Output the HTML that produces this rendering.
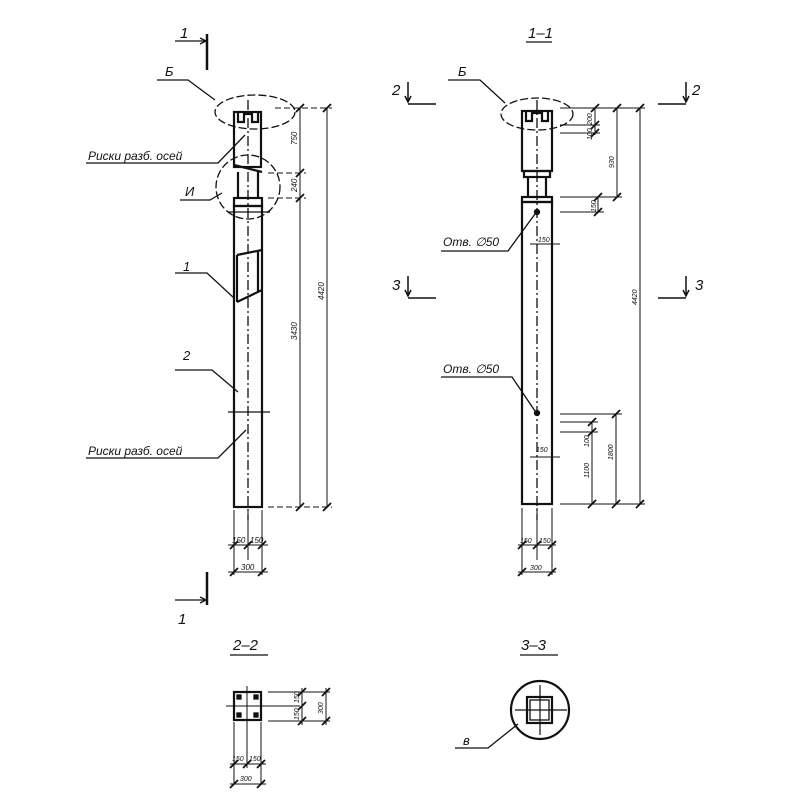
<!DOCTYPE html>
<html><head><meta charset="utf-8"><style>html,body{margin:0;padding:0;background:#fff}svg{display:block}</style></head><body>
<svg width="800" height="800" viewBox="0 0 800 800" xmlns="http://www.w3.org/2000/svg" font-family="Liberation Sans, sans-serif" font-style="italic" fill="none" stroke="#111" stroke-width="1.3">
<!-- section marks 1 -->
<text x="180" y="38" font-size="15" fill="#111" stroke="none">1</text>
<line x1="175" y1="41" x2="206" y2="41"/><path d="M200 38 L206 41 L200 44"/>
<line x1="207" y1="34" x2="207" y2="70" stroke-width="2.5"/>
<line x1="207" y1="572" x2="207" y2="605" stroke-width="2.5"/>
<line x1="175" y1="600" x2="206" y2="600"/><path d="M200 597 L206 600 L200 603"/>
<text x="178" y="624" font-size="15" fill="#111" stroke="none">1</text>

<!-- LEFT COLUMN -->
<g stroke-width="2.2">
<rect x="234" y="112" width="27" height="55"/>
<path d="M234 165 L262 172 M238 172 L238 198 M258 172 L258 198"/>
<rect x="234" y="198" width="28" height="8"/>
<rect x="234" y="206" width="28" height="301"/>
<path d="M238 112 v10 h6 v-8 h8 v8 h6 v-10"/>
<path d="M237 255 L262 250 M237 302 L262 290 M237 255 V302 M258 250 V292"/>
</g>
<path d="M248 100 V520" stroke-dasharray="10,3,2,3"/>
<ellipse cx="255" cy="112" rx="40" ry="17" stroke-dasharray="8,3"/>
<circle cx="248" cy="187" r="32" stroke-dasharray="8,3"/>
<line x1="228" y1="212" x2="270" y2="212"/>
<line x1="228" y1="412" x2="270" y2="412"/>
<!-- leaders left -->
<text x="165" y="76" font-size="13" fill="#111" stroke="none">Б</text>
<path d="M157 80 L188 80 L215 100"/>
<text x="88" y="160" font-size="12" fill="#111" stroke="none">Риски разб. осей</text>
<path d="M86 163 L218 163 L245 135"/>
<text x="185" y="196" font-size="13" fill="#111" stroke="none">И</text>
<path d="M180 200 L210 200 L222 193"/>
<text x="183" y="271" font-size="13" fill="#111" stroke="none">1</text>
<path d="M175 273 L207 273 L234 298"/>
<text x="183" y="360" font-size="13" fill="#111" stroke="none">2</text>
<path d="M175 370 L212 370 L238 392"/>
<text x="88" y="455" font-size="12" fill="#111" stroke="none">Риски разб. осей</text>
<path d="M86 458 L218 458 L246 430"/>
<!-- dims left -->
<g stroke-width="1">
<path d="M275 108 H332 M268 173 H306 M268 198 H306 M268 507 H332" stroke-dasharray="6,3"/>
<line x1="300" y1="108" x2="300" y2="507"/>
<line x1="327" y1="108" x2="327" y2="507"/>
<path d="M296 112 l8 -8 M296 177 l8 -8 M296 202 l8 -8 M296 511 l8 -8 M323 112 l8 -8 M323 511 l8 -8" stroke-width="1.8"/>
<path d="M234 510 V575 M248 510 V560 M262 510 V575 M228 545 H268 M228 572 H268"/>
<path d="M230 549 l8 -8 M244 549 l8 -8 M258 549 l8 -8 M230 576 l8 -8 M258 576 l8 -8" stroke-width="1.8"/>
</g>
<g fill="#111" stroke="none" font-size="8">
<text transform="translate(297,145) rotate(-90)">750</text>
<text transform="translate(297,192) rotate(-90)">240</text>
<text transform="translate(297,340) rotate(-90)">3430</text>
<text transform="translate(324,300) rotate(-90)">4420</text>
<text x="232" y="543">150</text><text x="250" y="543">150</text><text x="241" y="570">300</text>
</g>

<!-- RIGHT VIEW -->
<text x="528" y="38" font-size="15" fill="#111" stroke="none">1–1</text>
<line x1="526" y1="42" x2="552" y2="42"/>
<text x="392" y="95" font-size="15" fill="#111" stroke="none">2</text>
<path d="M408 82 V102 M405 96 l3 6 l3 -6 M408 104 H436" stroke-width="1.5"/>
<path d="M686 82 V102 M683 96 l3 6 l3 -6 M658 104 H686" stroke-width="1.5"/>
<text x="692" y="95" font-size="15" fill="#111" stroke="none">2</text>
<text x="392" y="290" font-size="15" fill="#111" stroke="none">3</text>
<path d="M408 276 V296 M405 290 l3 6 l3 -6 M408 298 H436" stroke-width="1.5"/>
<path d="M686 276 V296 M683 290 l3 6 l3 -6 M658 298 H686" stroke-width="1.5"/>
<text x="695" y="290" font-size="15" fill="#111" stroke="none">3</text>
<g stroke-width="2.2">
<rect x="522" y="111" width="30" height="60"/>
<rect x="524" y="171" width="26" height="6"/>
<path d="M528 177 V197 M546 177 V197"/>
<rect x="522" y="197" width="30" height="5"/>
<rect x="522" y="202" width="30" height="302"/>
<path d="M526 111 v10 h6 v-8 h10 v8 h6 v-10"/>
</g>
<path d="M537 100 V520" stroke-dasharray="10,3,2,3"/>
<ellipse cx="537" cy="114" rx="36" ry="16" stroke-dasharray="8,3"/>
<circle cx="537" cy="212" r="2.5" fill="#111"/>
<circle cx="537" cy="413" r="2.5" fill="#111"/>
<text x="458" y="76" font-size="13" fill="#111" stroke="none">Б</text>
<path d="M448 80 L480 80 L505 103"/>
<text x="443" y="246" font-size="12" fill="#111" stroke="none">Отв. ∅50</text>
<path d="M441 251 L508 251 L535 214"/>
<text x="443" y="373" font-size="12" fill="#111" stroke="none">Отв. ∅50</text>
<path d="M441 377 L512 377 L535 411"/>
<g stroke-width="1">
<path d="M560 108 H645 M560 125 H600 M560 133 H600 M560 197 H622 M560 212 H604 M560 414 H622 M560 422 H598 M560 432 H598 M560 504 H645"/>
<line x1="595" y1="108" x2="595" y2="135"/>
<line x1="617" y1="108" x2="617" y2="197"/>
<line x1="598" y1="197" x2="598" y2="212"/>
<line x1="640" y1="108" x2="640" y2="504"/>
<line x1="592" y1="422" x2="592" y2="504"/>
<line x1="616" y1="414" x2="616" y2="504"/>
<path d="M591 112 l8 -8 M591 129 l8 -8 M591 137 l8 -8 M613 112 l8 -8 M613 201 l8 -8 M594 201 l8 -8 M594 216 l8 -8 M636 112 l8 -8 M636 508 l8 -8 M588 426 l8 -8 M588 508 l8 -8 M612 418 l8 -8 M612 508 l8 -8 M588 436 l8 -8" stroke-width="1.8"/>
<path d="M522 508 V575 M537 508 V560 M552 508 V575 M518 545 H556 M518 572 H556 M530 244 H560 M530 457 H560"/>
<path d="M518 549 l8 -8 M533 549 l8 -8 M548 549 l8 -8 M518 576 l8 -8 M548 576 l8 -8" stroke-width="1.8"/>
</g>
<g fill="#111" stroke="none" font-size="7">
<text transform="translate(592,125) rotate(-90)">200</text>
<text transform="translate(592,140) rotate(-90)">100</text>
<text transform="translate(614,168) rotate(-90)">930</text>
<text transform="translate(596,212) rotate(-90)">150</text>
<text transform="translate(637,305) rotate(-90)">4420</text>
<text transform="translate(589,447) rotate(-90)">100</text>
<text transform="translate(589,478) rotate(-90)">1100</text>
<text transform="translate(613,460) rotate(-90)">1800</text>
<text x="538" y="242">150</text><text x="536" y="452">150</text>
<text x="520" y="543">150</text><text x="539" y="543">150</text><text x="530" y="570">300</text>
</g>

<!-- 2-2 -->
<text x="233" y="650" font-size="15" fill="#111" stroke="none">2–2</text>
<line x1="230" y1="655" x2="268" y2="655"/>
<rect x="234" y="692" width="27" height="28" stroke-width="2.2"/>
<rect x="237" y="695" width="4" height="4" fill="#111"/><rect x="254" y="695" width="4" height="4" fill="#111"/>
<rect x="237" y="713" width="4" height="4" fill="#111"/><rect x="254" y="713" width="4" height="4" fill="#111"/>
<path d="M226 706 H300 M247 686 V728" stroke-width="1"/>
<g stroke-width="1">
<path d="M268 692 H330 M268 721 H330 M302 688 V725 M326 688 V725 M234 722 V785 M247 722 V768 M261 722 V785 M230 764 H266 M230 784 H266"/>
<path d="M298 696 l8 -8 M298 710 l8 -8 M298 725 l8 -8 M322 696 l8 -8 M322 725 l8 -8 M230 768 l8 -8 M243 768 l8 -8 M257 768 l8 -8 M230 788 l8 -8 M257 788 l8 -8" stroke-width="1.8"/>
</g>
<g fill="#111" stroke="none" font-size="7">
<text transform="translate(299,703) rotate(-90)">150</text>
<text transform="translate(299,720) rotate(-90)">150</text>
<text transform="translate(323,714) rotate(-90)">300</text>
<text x="232" y="761">150</text><text x="249" y="761">150</text><text x="240" y="781">300</text>
</g>

<!-- 3-3 -->
<text x="521" y="650" font-size="15" fill="#111" stroke="none">3–3</text>
<line x1="520" y1="655" x2="558" y2="655"/>
<circle cx="540" cy="710" r="29" stroke-width="2.2"/>
<rect x="527" y="697" width="25" height="26" stroke-width="2.2"/>
<rect x="530" y="700" width="19" height="20"/>
<path d="M515 710 H567 M540 685 V735" stroke-width="1.2"/>
<text x="463" y="745" font-size="13" fill="#111" stroke="none">в</text>
<path d="M455 748 L488 748 L518 724"/>
</svg>
</body></html>
